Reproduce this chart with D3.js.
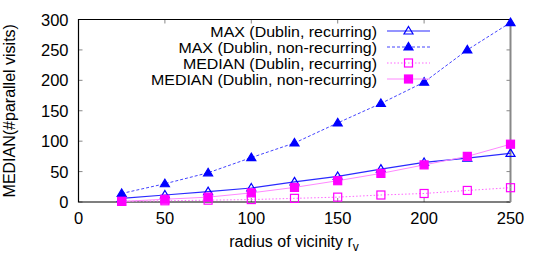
<!DOCTYPE html>
<html>
<head>
<meta charset="utf-8">
<script src="https://cdn.jsdelivr.net/npm/d3@7"></script>
<style>
  body { margin: 0; background: #fff; }
  text { font-family: "Liberation Sans", Arial, sans-serif; }
</style>
</head>
<body>
<div id="chart"></div>
<script>
const radius = [25, 50, 75, 100, 125, 150, 175, 200, 225, 250];
const maxRecurring = [6, 11.5, 17, 23, 33, 42, 54, 65, 72, 80];
const maxNonRecurring = [14, 30, 48, 73, 97, 130, 162, 197, 250, 295];
const medianRecurring = [1, 2, 3, 4, 6, 8, 11.5, 14, 19, 23.5];
const medianNonRecurring = [1, 4.5, 8, 15, 24, 35, 47, 61, 75, 95];
const xTicks = [0, 50, 100, 150, 200, 250];
const yTicks = [0, 50, 100, 150, 200, 250, 300];

const series = [
  {name: "MAX (Dublin, recurring)", values: maxRecurring, line: "#2a2aff", dash: null, width: 1.2, marker: "triangle", filled: false, mcolor: "#0000ff"},
  {name: "MAX (Dublin, non-recurring)", values: maxNonRecurring, line: "#4444ff", dash: "3,2", width: 1, marker: "triangle", filled: true, mcolor: "#0000ff"},
  {name: "MEDIAN (Dublin, recurring)", values: medianRecurring, line: "#ff66ff", dash: "1.5,2", width: 1, marker: "square", filled: false, mcolor: "#ff00ff"},
  {name: "MEDIAN (Dublin, non-recurring)", values: medianNonRecurring, line: "#ff88ff", dash: null, width: 1, marker: "square", filled: true, mcolor: "#ff00ff"},
];

const W = 540, H = 270;
const m = {left: 78.5, right: 29.5, top: 19.5, bottom: 68};
const fs = 16.5;
const svg = d3.select("#chart").append("svg").attr("width", W).attr("height", H);

const x = d3.scaleLinear().domain([0, 250]).range([m.left, W - m.right]);
const y = d3.scaleLinear().domain([0, 300]).range([H - m.bottom, m.top]);

// ticks inside, mirrored on top/right
const tl = 4;
svg.selectAll(".xt").data(xTicks).enter().append("path")
  .attr("d", d => `M${x(d)},${y(0)}v${-tl}M${x(d)},${y(300)}v${tl}`)
  .attr("stroke", "#888").attr("stroke-width", 1);
svg.selectAll(".yt").data(yTicks).enter().append("path")
  .attr("d", d => `M${x(0)},${y(d)}h${tl}M${x(250)},${y(d)}h${-tl}`)
  .attr("stroke", "#888").attr("stroke-width", 1);

// frame
svg.append("path")
  .attr("d", `M${x(250)},${y(300)}H${x(0)}V${y(0)}H${x(250)}`)
  .attr("fill", "none").attr("stroke", "#000").attr("stroke-width", 1.2);
svg.append("line")
  .attr("x1", x(250)).attr("x2", x(250)).attr("y1", y(300)).attr("y2", y(0))
  .attr("stroke", "#888").attr("stroke-width", 2);

svg.selectAll(".xl").data(xTicks).enter().append("text")
  .attr("x", d => x(d)).attr("y", y(0) + 22)
  .attr("text-anchor", "middle").attr("font-size", fs).text(d => d);
svg.selectAll(".yl").data(yTicks).enter().append("text")
  .attr("x", x(0) - 10).attr("y", d => y(d) + 6)
  .attr("text-anchor", "end").attr("font-size", fs).text(d => d);

const xl = svg.append("text").attr("x", 294).attr("y", 247)
  .attr("text-anchor", "middle").attr("font-size", 16);
xl.append("tspan").text("radius of vicinity r");
xl.append("tspan").attr("dy", 4).attr("font-size", 12).text("v");

svg.append("text")
  .attr("transform", `translate(15,${(y(0) + y(300)) / 2}) rotate(-90)`)
  .attr("text-anchor", "middle").attr("font-size", 16)
  .text("MEDIAN(#parallel visits)");

const line = d3.line().x((d, i) => x(radius[i])).y(d => y(d));

function marker(g, type, cx, cy, filled, color) {
  if (type === "triangle") {
    g.append("path")
      .attr("d", `M${cx},${cy - 4.5}L${cx + 4.5},${cy + 3}L${cx - 4.5},${cy + 3}Z`)
      .attr("fill", filled ? color : "none").attr("stroke", color).attr("stroke-width", 1.2);
  } else {
    g.append("rect").attr("x", cx - 4).attr("y", cy - 4).attr("width", 8).attr("height", 8)
      .attr("fill", filled ? color : "none").attr("stroke", color).attr("stroke-width", 1.2);
  }
}

series.forEach(s => {
  svg.append("path").datum(s.values).attr("d", line)
    .attr("fill", "none").attr("stroke", s.line).attr("stroke-width", s.width)
    .attr("stroke-dasharray", s.dash);
  const g = svg.append("g");
  s.values.forEach((v, i) => marker(g, s.marker, x(radius[i]), y(v), s.filled, s.mcolor));
});

// legend: slightly narrower font size, stretched to the reference width
const legFs = 14.2;
const legTexts = series.map((s, i) => {
  const ly = 31 + i * 16;
  const t = svg.append("text").attr("x", 377).attr("y", ly + 5.5)
    .attr("text-anchor", "end").attr("font-size", legFs).text(s.name);
  svg.append("line").attr("x1", 387).attr("x2", 430).attr("y1", ly).attr("y2", ly)
    .attr("stroke", s.line).attr("stroke-width", s.width).attr("stroke-dasharray", s.dash);
  marker(svg.append("g"), s.marker, 408.5, ly, s.filled, s.mcolor);
  return t;
});
const k = 226 / legTexts[3].node().getComputedTextLength();
legTexts.forEach(t => {
  t.attr("textLength", t.node().getComputedTextLength() * k).attr("lengthAdjust", "spacingAndGlyphs");
});
</script>
</body>
</html>
